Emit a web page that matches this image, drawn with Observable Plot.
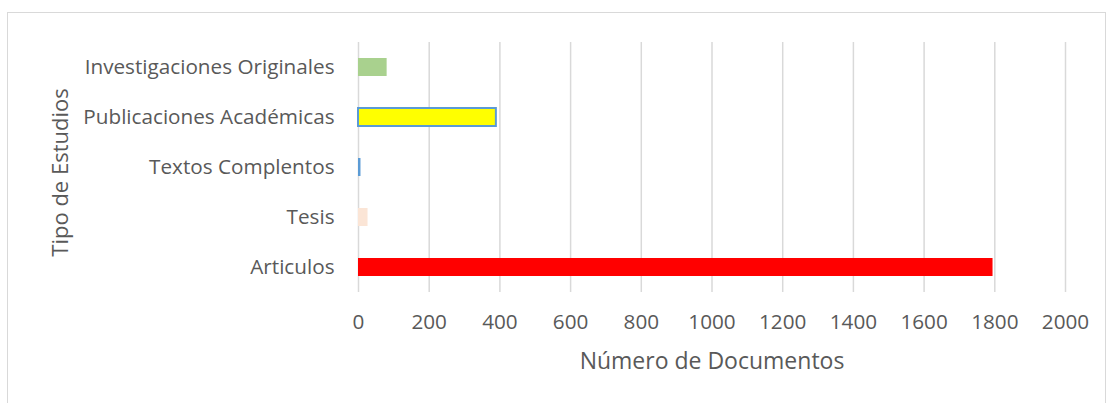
<!DOCTYPE html>
<html><head><meta charset="utf-8">
<script src="https://cdn.jsdelivr.net/npm/d3@7"></script>
<script src="https://cdn.jsdelivr.net/npm/@observablehq/plot@0.6"></script>
<style>
html,body{margin:0;padding:0;background:#fff;}
#wrap{position:relative;width:1107px;height:403px;}
#border{position:absolute;left:7px;top:12px;width:1099px;height:400px;border:1px solid #d9d9d9;box-sizing:border-box;pointer-events:none;}
</style>
</head><body>
<div id="wrap"><div id="border"></div><div id="chart"></div></div>
<script>
const categories = ["Investigaciones Originales","Publicaciones Académicas","Textos Complentos","Tesis","Articulos"];
const values = [81, 390, 7, 27, 1795];
const fills = ["#a9d18e","#ffff00","#5b9bd5","#fbe5d6","#ff0000"];
const strokes = ["none","#5b9bd5","none","none","none"];
const xTicks = [0,200,400,600,800,1000,1200,1400,1600,1800,2000];

const data = categories.map((c,i)=>({cat:c, value:values[i], fill:fills[i], stroke:strokes[i]}));

const chart = Plot.plot({
  width: 1107,
  height: 403,
  marginLeft: 358,
  marginRight: 42,
  marginTop: 42,
  marginBottom: 111,
  style: {fontFamily: "'Open Sans', sans-serif", color: "#595959", background: "transparent"},
  x: {domain: [0, 2000], ticks: xTicks, tickFormat: "d", label: null},
  y: {domain: categories, paddingInner: 0.64, paddingOuter: 0.32, label: null},
  marks: [
    Plot.gridX(xTicks, {stroke: "#d9d9d9", strokeOpacity: 1, strokeWidth: 1.5}),
    Plot.barX(data, {x: "value", y: "cat", fill: "fill", stroke: "stroke", strokeWidth: 2, inset: 0}),
    Plot.axisX({ticks: xTicks, tickFormat: "d", tickSize: 0, tickPadding: 22, fontSize: 20.7, fill: "#595959", label: null}),
    Plot.axisY({tickSize: 0, tickPadding: 24, fontSize: 20.7, fill: "#595959", label: null}),
    Plot.text(["Número de Documentos"], {frameAnchor: "bottom", dy: 76, fontSize: 23, fill: "#595959"}),
    Plot.text(["Tipo de Estudios"], {frameAnchor: "left", textAnchor: "middle", dx: -298, dy: 5, rotate: -90, fontSize: 22, fill: "#595959"})
  ]
});
document.getElementById("chart").appendChild(chart);
</script>
</body></html>
